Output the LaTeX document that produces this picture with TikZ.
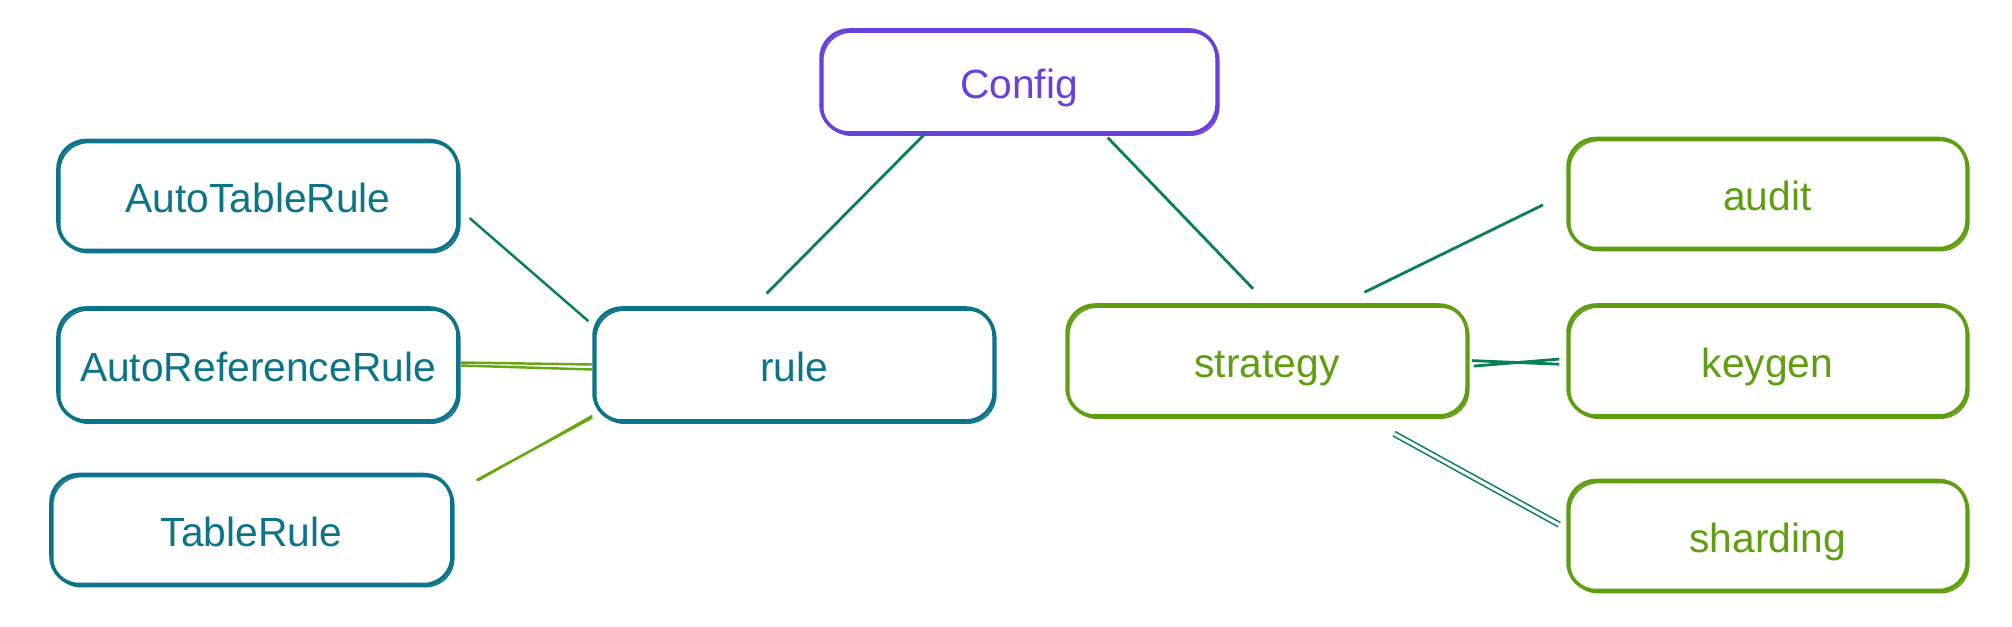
\documentclass[tikz,border=0pt]{standalone}
\usepackage{fontspec}
\setmainfont{Liberation Sans}
\usetikzlibrary{calc}

\definecolor{cfgviolet}{HTML}{6741D9}
\definecolor{ruleteal}{HTML}{0C7489}
\definecolor{stratlime}{HTML}{5F9E10}
\definecolor{linkgreen}{HTML}{087F5B}
\definecolor{linklime}{HTML}{66A80F}

\tikzset{
  box/.style={draw, rounded corners=0.28cm, line width=1pt,
    minimum width=4cm, minimum height=1.1cm, inner sep=0pt,
    text height=0.98em, text depth=0.02em,
    font=\fontsize{11.6}{13}\selectfont,
    preaction={draw, line width=0.45pt,
      transform canvas={shift={(0.5pt,-0.6pt)}}}},
  cfgbox/.style={box, draw=cfgviolet, text=cfgviolet,
    minimum width=3.96cm, minimum height=1.03cm},
  rulebox/.style={box, draw=ruleteal, text=ruleteal},
  stratbox/.style={box, draw=stratlime, text=stratlime},
  link/.style={draw=linkgreen, line width=0.8pt},
  limelink/.style={draw=linklime, line width=0.7pt},
  twinlink/.style={draw=linkgreen, double, double distance=0.9pt, line width=0.45pt}
}

\begin{document}
\begin{tikzpicture}

\useasboundingbox (0,0) rectangle (20.12,6.26);

% Top
\node[cfgbox] (config) at (10.19,5.445) {Config};

% Rule side
\node[rulebox] (atr) at (2.58,4.305) {AutoTableRule};
\node[rulebox, minimum height=1.13cm] (arr) at (2.58,2.615) {AutoReferenceRule};
\node[rulebox, minimum width=4.01cm] (tr) at (2.515,0.965) {TableRule};
\node[rulebox, minimum height=1.13cm] (rule) at (7.94,2.615) {rule};

% Strategy side
\node[stratbox, minimum height=1.11cm] (strategy) at (12.67,2.655) {strategy};
\node[stratbox, minimum width=3.99cm] (audit) at (17.675,4.325) {audit};
\node[stratbox, minimum width=3.99cm, minimum height=1.11cm] (keygen) at (17.675,2.655) {keygen};
\node[stratbox, minimum width=3.99cm] (sharding) at (17.675,0.905) {sharding};

% Config links
\draw[link, shorten >=0.18cm]
  ([xshift=-0.95cm]config.south) -- ([xshift=-0.40cm]rule.north);
\draw[link, shorten <=0.04cm, shorten >=0.2cm]
  ([xshift=0.86cm]config.south) -- (strategy.north);

% Rule links
\draw[link, line width=0.7pt, shorten <=0.13cm, shorten >=0.05cm]
  ([yshift=-0.14cm]atr.east) -- ([yshift=0.40cm]rule.west);
\draw[limelink, shorten <=0.01cm]
  ([yshift=0.02cm]arr.east) -- (rule.west);
\draw[limelink, shorten <=0.01cm]
  ([yshift=-0.01cm]arr.east) -- ([yshift=-0.05cm]rule.west);
\draw[limelink, shorten <=0.26cm]
  ([yshift=0.37cm]tr.east) -- ([yshift=-0.53cm]rule.west);
\draw[limelink, line width=0.5pt, shorten <=0.28cm]
  ([yshift=0.35cm]tr.east) -- ([yshift=-0.51cm]rule.west);

% Strategy links
\draw[link, shorten <=0.25cm, shorten >=0.26cm]
  ([xshift=0.75cm]strategy.north) -- (audit.west);
\draw[link, shorten <=0.03cm, shorten >=0.07cm]
  (strategy.east) -- ([yshift=-0.04cm]keygen.west);
\draw[link, shorten <=0.05cm, shorten >=0.07cm]
  ([yshift=-0.06cm]strategy.east) -- ([yshift=0.02cm]keygen.west);
\draw[twinlink, shorten <=0.33cm, shorten >=0.08cm]
  ([xshift=0.98cm]strategy.south) -- ([yshift=0.07cm]sharding.west);

\end{tikzpicture}
\end{document}
